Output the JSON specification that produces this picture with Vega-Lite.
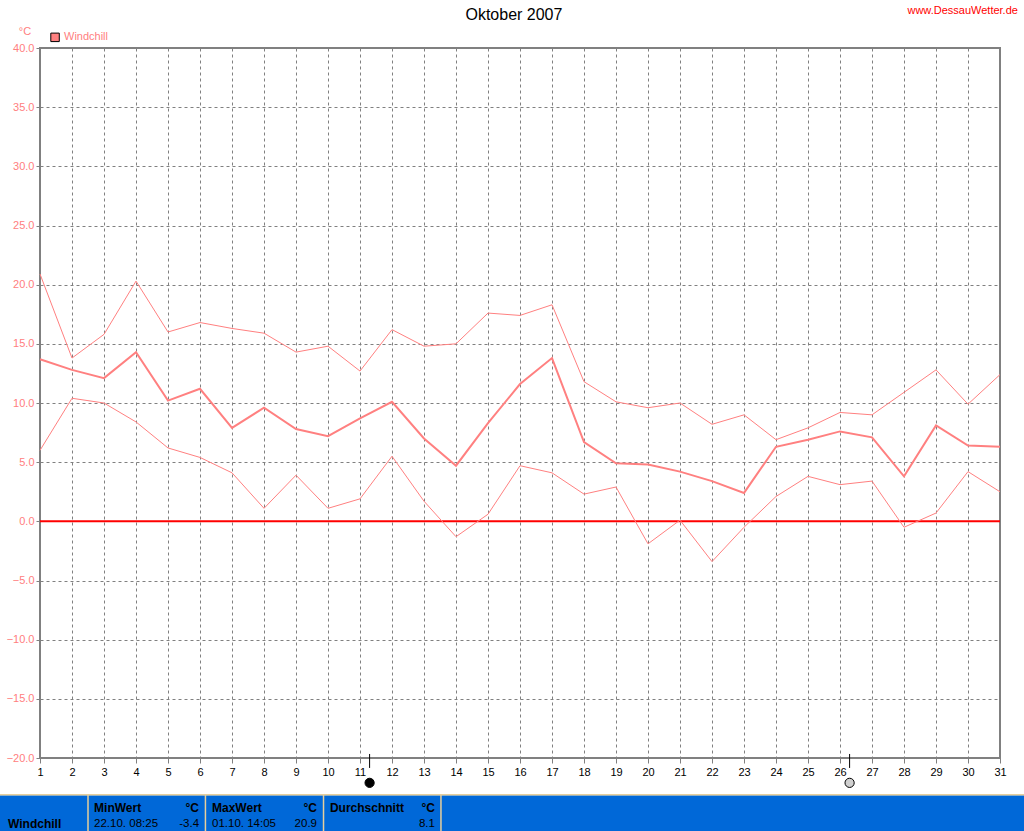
{"$schema":"https://vega.github.io/schema/vega-lite/v6.json","width":960,"height":710,"autosize":{"type":"none"},"padding":{"left":40,"top":48,"right":24,"bottom":73},"background":"white","config":{"font":"Liberation Sans","view":{"stroke":"#808080","strokeWidth":2}},"encoding":{"x":{"field":"day","type":"quantitative","scale":{"domain":[1,31],"nice":false,"zero":false},"axis":{"values":[1,2,3,4,5,6,7,8,9,10,11,12,13,14,15,16,17,18,19,20,21,22,23,24,25,26,27,28,29,30,31],"format":"d","title":null,"grid":true,"gridColor":"#808080","gridDash":[3,3],"gridWidth":1,"domain":false,"tickColor":"#808080","tickSize":5,"labelColor":"#000000","labelFont":"Liberation Sans","labelFontSize":11,"labelPadding":3,"labelFlush":false,"labelOverlap":false}},"y":{"field":"value","type":"quantitative","scale":{"domain":[-20,40],"nice":false,"zero":false},"axis":{"values":[-20,-15,-10,-5,0,5,10,15,20,25,30,35,40],"format":".1f","title":null,"grid":true,"gridColor":"#808080","gridDash":[3,3],"gridWidth":1,"domain":false,"tickColor":"#808080","tickSize":4,"labelColor":"#ff8080","labelFont":"Liberation Sans","labelFontSize":11,"labelPadding":2,"labelOverlap":false}}},"layer":[{"data":{"values":[{"day":1,"value":0},{"day":31,"value":0}]},"mark":{"type":"line","color":"#ff0000","strokeWidth":2}},{"data":{"values":[{"day":1,"value":20.9},{"day":2,"value":13.8},{"day":3,"value":15.8},{"day":4,"value":20.3},{"day":5,"value":16.0},{"day":6,"value":16.8},{"day":7,"value":16.3},{"day":8,"value":15.9},{"day":9,"value":14.3},{"day":10,"value":14.8},{"day":11,"value":12.7},{"day":12,"value":16.2},{"day":13,"value":14.8},{"day":14,"value":15.0},{"day":15,"value":17.6},{"day":16,"value":17.4},{"day":17,"value":18.3},{"day":18,"value":11.8},{"day":19,"value":10.1},{"day":20,"value":9.6},{"day":21,"value":10.0},{"day":22,"value":8.2},{"day":23,"value":9.0},{"day":24,"value":6.9},{"day":25,"value":7.9},{"day":26,"value":9.2},{"day":27,"value":9.0},{"day":28,"value":10.9},{"day":29,"value":12.8},{"day":30,"value":9.9},{"day":31,"value":12.4}]},"mark":{"type":"line","color":"#ff8080","strokeWidth":1}},{"data":{"values":[{"day":1,"value":6.0},{"day":2,"value":10.4},{"day":3,"value":10.0},{"day":4,"value":8.4},{"day":5,"value":6.2},{"day":6,"value":5.4},{"day":7,"value":4.1},{"day":8,"value":1.1},{"day":9,"value":3.9},{"day":10,"value":1.1},{"day":11,"value":1.9},{"day":12,"value":5.5},{"day":13,"value":1.7},{"day":14,"value":-1.3},{"day":15,"value":0.6},{"day":16,"value":4.7},{"day":17,"value":4.1},{"day":18,"value":2.3},{"day":19,"value":2.9},{"day":20,"value":-1.9},{"day":21,"value":0.1},{"day":22,"value":-3.4},{"day":23,"value":-0.5},{"day":24,"value":2.1},{"day":25,"value":3.8},{"day":26,"value":3.1},{"day":27,"value":3.4},{"day":28,"value":-0.5},{"day":29,"value":0.7},{"day":30,"value":4.2},{"day":31,"value":2.5}]},"mark":{"type":"line","color":"#ff8080","strokeWidth":1}},{"data":{"values":[{"day":1,"value":13.7},{"day":2,"value":12.8},{"day":3,"value":12.1},{"day":4,"value":14.3},{"day":5,"value":10.2},{"day":6,"value":11.2},{"day":7,"value":7.9},{"day":8,"value":9.6},{"day":9,"value":7.8},{"day":10,"value":7.2},{"day":11,"value":8.7},{"day":12,"value":10.1},{"day":13,"value":7.0},{"day":14,"value":4.7},{"day":15,"value":8.3},{"day":16,"value":11.6},{"day":17,"value":13.8},{"day":18,"value":6.7},{"day":19,"value":4.9},{"day":20,"value":4.8},{"day":21,"value":4.2},{"day":22,"value":3.4},{"day":23,"value":2.4},{"day":24,"value":6.3},{"day":25,"value":6.9},{"day":26,"value":7.6},{"day":27,"value":7.1},{"day":28,"value":3.8},{"day":29,"value":8.1},{"day":30,"value":6.4},{"day":31,"value":6.3}]},"mark":{"type":"line","color":"#ff8080","strokeWidth":2}},{"data":{"values":[{"day":11.3,"value":-19.66,"day2":11.3,"value2":-20.84},{"day":26.3,"value":-19.66,"day2":26.3,"value2":-20.84}]},"mark":{"type":"rule","color":"#000000","strokeWidth":1},"encoding":{"x2":{"field":"day2"},"y2":{"field":"value2"}}},{"data":{"values":[{"day":11.3,"value":-22.1,"phase":"Neumond"},{"day":26.3,"value":-22.1,"phase":"Vollmond"}]},"mark":{"type":"point","filled":true,"size":85,"opacity":1,"stroke":"#000000","strokeWidth":1},"encoding":{"fill":{"field":"phase","type":"nominal","scale":{"domain":["Neumond","Vollmond"],"range":["#000000","#d0d0d0"]},"legend":null}}},{"data":{"values":[{"day":1.47,"value":40.9}]},"mark":{"type":"point","shape":"square","filled":true,"size":72,"fill":"#ff8080","stroke":"#000000","strokeWidth":1,"opacity":1}},{"data":{"values":[{"day":-0.25,"value":-23.15,"day2":31.75,"value2":-26.2}]},"mark":{"type":"rect","fill":"#0068d8"},"encoding":{"x2":{"field":"day2"},"y2":{"field":"value2"}}},{"data":{"values":[{"day":-0.25,"value":-23.1,"day2":31.75,"value2":-23.1},{"day":2.5,"value":-23.1,"day2":2.5,"value2":-26.2},{"day":6.17,"value":-23.1,"day2":6.17,"value2":-26.2},{"day":9.86,"value":-23.1,"day2":9.86,"value2":-26.2},{"day":13.53,"value":-23.1,"day2":13.53,"value2":-26.2}]},"mark":{"type":"rule","color":"#e6cf9c","strokeWidth":1.5},"encoding":{"x2":{"field":"day2"},"y2":{"field":"value2"}}},{"data":{"values":[{"day":15.81,"value":42.8,"label":"Oktober 2007"}]},"mark":{"type":"text","align":"center","baseline":"middle","fontSize":16,"color":"#000000","font":"Liberation Sans"},"encoding":{"text":{"field":"label"}}},{"data":{"values":[{"day":31.56,"value":43.13,"label":"www.DessauWetter.de"}]},"mark":{"type":"text","align":"right","baseline":"middle","fontSize":11,"color":"#ff0000","font":"Liberation Sans"},"encoding":{"text":{"field":"label"}}},{"data":{"values":[{"day":0.53,"value":41.35,"label":"°C"}]},"mark":{"type":"text","align":"center","baseline":"middle","fontSize":11,"color":"#ff8080","font":"Liberation Sans"},"encoding":{"text":{"field":"label"}}},{"data":{"values":[{"day":1.75,"value":40.9,"label":"Windchill"}]},"mark":{"type":"text","align":"left","baseline":"middle","fontSize":11,"color":"#ff8080","font":"Liberation Sans"},"encoding":{"text":{"field":"label"}}},{"data":{"values":[{"day":0,"value":-25.6,"label":"Windchill"},{"day":2.69,"value":-24.26,"label":"MinWert"},{"day":6.375,"value":-24.26,"label":"MaxWert"},{"day":10.06,"value":-24.26,"label":"Durchschnitt"}]},"mark":{"type":"text","align":"left","baseline":"middle","fontSize":12,"fontWeight":"bold","color":"#000000","font":"Liberation Sans"},"encoding":{"text":{"field":"label"}}},{"data":{"values":[{"day":5.97,"value":-24.26,"label":"°C"},{"day":9.656,"value":-24.26,"label":"°C"},{"day":13.34,"value":-24.26,"label":"°C"}]},"mark":{"type":"text","align":"right","baseline":"middle","fontSize":12,"fontWeight":"bold","color":"#000000","font":"Liberation Sans"},"encoding":{"text":{"field":"label"}}},{"data":{"values":[{"day":2.69,"value":-25.6,"label":"22.10.  08:25"},{"day":6.375,"value":-25.6,"label":"01.10.  14:05"}]},"mark":{"type":"text","align":"left","baseline":"middle","fontSize":11.5,"color":"#000000","font":"Liberation Sans"},"encoding":{"text":{"field":"label"}}},{"data":{"values":[{"day":5.97,"value":-25.6,"label":"-3.4"},{"day":9.656,"value":-25.6,"label":"20.9"},{"day":13.34,"value":-25.6,"label":"8.1"}]},"mark":{"type":"text","align":"right","baseline":"middle","fontSize":11.5,"color":"#000000","font":"Liberation Sans"},"encoding":{"text":{"field":"label"}}}]}
